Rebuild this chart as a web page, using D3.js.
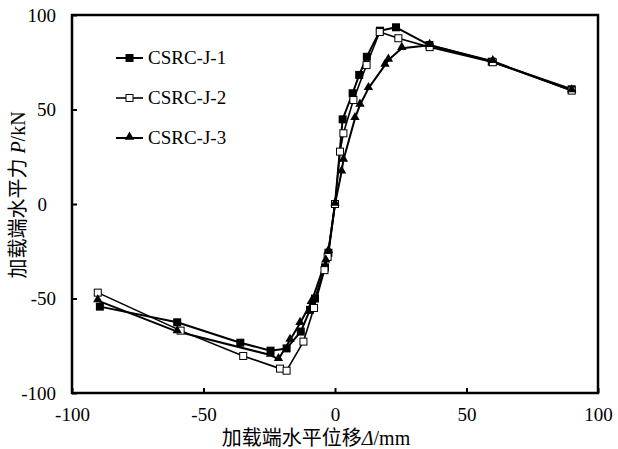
<!DOCTYPE html>
<html lang="zh">
<head>
  <meta charset="UTF-8">
  <title>P-Δ</title>
  <style>
    body { margin: 0; background: #fff; }
    text { font-family: "Liberation Serif", "Times New Roman", "Noto Sans CJK SC", serif; }
  </style>
</head>
<body>
  <div id="my_dataviz"></div>

<script src="https://d3js.org/d3.v7.min.js"></script>
<script>

    // values (displacement in mm, load in kN)
    var dispJ1 = [-89.4, -60, -36, -24.5, -18.4, -13, -9.5, -7.6, -3.8, -2.5, 0, 2.9, 6.7, 9.2, 12.1, 17.1, 23.2, 35.9, 59.6, 90];
    var loadJ1 = [-54.3, -62.6, -73.4, -77.6, -76.4, -67.5, -56, -50, -33.5, -25.8, 0, 44.8, 58.6, 68.3, 77.9, 91.7, 93.5, 84.1, 75.3, 60.7];

    var dispJ2 = [-90.2, -58.7, -34.9, -20.9, -18.4, -12, -8, -4, -2.8, 0, 1.9, 3.2, 7, 12, 17, 24.1, 36, 60, 90];
    var loadJ2 = [-46.9, -67, -80.4, -87.1, -88.2, -72.8, -55, -35, -28, 0, 27.7, 37.4, 55, 73.5, 91, 87.7, 83, 75, 60];

    var dispJ3 = [-90.2, -60, -24.5, -21.5, -17.1, -13.3, -9, -3.5, -2.5, 0, 2.5, 3.2, 7.6, 9.5, 12.7, 19, 20.3, 25.4, 36, 60, 90];
    var loadJ3 = [-51.1, -67.5, -79.9, -82.2, -72, -63.1, -52, -30, -25, 0, 17.1, 23.3, 45.3, 52.4, 61.2, 73.5, 76.2, 82.4, 84, 75.5, 60];

    var seriesNames = ["CSRC-J-1", "CSRC-J-2", "CSRC-J-3"];
    var xTicks = [-100, -50, 0, 50, 100];
    var yTicks = [-100, -50, 0, 50, 100];

    var width = 618, height = 449;
    var margin = {top: 15, right: 20, bottom: 56, left: 72};

    var svg = d3.select("#my_dataviz")
      .append("svg")
        .attr("width", width)
        .attr("height", height);

    var x = d3.scaleLinear().domain([-100, 100]).range([margin.left, width - margin.right]);
    var y = d3.scaleLinear().domain([-100, 100]).range([height - margin.bottom, margin.top]);

    // plain hyphen for negatives, like the original
    var fmt = function(d) { return String(d); };

    // inner ticks (the frame covers the end ones)
    var xAxis = d3.axisBottom(x).tickValues(xTicks).tickSize(-5).tickPadding(12).tickFormat(fmt);
    var yAxis = d3.axisLeft(y).tickValues(yTicks).tickSize(-5).tickPadding(16).tickFormat(fmt);

    var gx = svg.append("g")
      .attr("transform", "translate(0," + y(-100) + ")")
      .call(xAxis);
    var gy = svg.append("g")
      .attr("transform", "translate(" + x(-100) + ",0)")
      .call(yAxis);

    [gx, gy].forEach(function(g) {
      g.select(".domain").remove();
      g.selectAll(".tick line").attr("stroke", "#000").attr("stroke-width", 2);
      g.selectAll(".tick text")
        .attr("fill", "#000")
        .style("font-size", "19px");
    });
    gx.selectAll(".tick text").attr("dy", "0.85em");
    gy.selectAll(".tick").filter(function(d){ return d == 0; }).select("text").attr("dx", "-9px");

    // frame
    svg.append("rect")
      .attr("x", x(-100))
      .attr("y", y(100))
      .attr("width", x(100) - x(-100))
      .attr("height", y(-100) - y(100))
      .attr("fill", "none")
      .attr("stroke", "#000")
      .attr("stroke-width", 2.5);

    var line = d3.line()
      .x(function(d){ return x(d[0]); })
      .y(function(d){ return y(d[1]); });

    var series = [
      {name: seriesNames[0], pts: d3.zip(dispJ1, loadJ1), marker: "fsq", lw: 2},
      {name: seriesNames[1], pts: d3.zip(dispJ2, loadJ2), marker: "osq", lw: 1.6},
      {name: seriesNames[2], pts: d3.zip(dispJ3, loadJ3), marker: "tri", lw: 2}
    ];

    var drawMarker = function(g, kind, cx, cy) {
      if (kind == "fsq") {
        g.append("rect").attr("x", cx - 4).attr("y", cy - 4).attr("width", 8).attr("height", 8)
          .attr("fill", "#000");
      } else if (kind == "osq") {
        g.append("rect").attr("x", cx - 3.5).attr("y", cy - 3.5).attr("width", 7).attr("height", 7)
          .attr("fill", "#fff").attr("stroke", "#000").attr("stroke-width", 1);
      } else {
        g.append("path")
          .attr("d", d3.symbol().type(d3.symbolTriangle).size(38))
          .attr("transform", "translate(" + cx + "," + (cy - 1) + ")")
          .attr("fill", "#000");
      }
    };

    // draw lines first, then markers on top
    series.forEach(function(s) {
      svg.append("path")
        .datum(s.pts)
        .attr("d", line)
        .attr("fill", "none")
        .attr("stroke", "#000")
        .attr("stroke-width", s.lw)
        .attr("stroke-linejoin", "round");
    });
    series.forEach(function(s) {
      var g = svg.append("g");
      s.pts.forEach(function(p) { drawMarker(g, s.marker, x(p[0]), y(p[1])); });
    });

    // legend
    var leg = svg.append("g");
    series.forEach(function(s, i) {
      var ly = 58 + i * 40;
      leg.append("line")
        .attr("x1", 116).attr("x2", 143)
        .attr("y1", ly).attr("y2", ly)
        .attr("stroke", "#000").attr("stroke-width", s.lw);
      drawMarker(leg, s.marker, 129.5, ly);
      leg.append("text")
        .attr("x", 148).attr("y", ly + 6)
        .style("font-size", "19px")
        .text(s.name);
    });

    // axis titles
    var xt = svg.append("text")
      .attr("x", 316).attr("y", 445)
      .attr("text-anchor", "middle")
      .style("font-size", "20px");
    xt.append("tspan").text("加载端水平位移");
    xt.append("tspan").style("font-style", "italic").text("Δ");
    xt.append("tspan").text("/mm");

    var yt = svg.append("text")
      .attr("transform", "translate(25,195) rotate(-90)")
      .attr("text-anchor", "middle")
      .style("font-size", "20px");
    yt.append("tspan").text("加载端水平力 ");
    yt.append("tspan").style("font-style", "italic").text("P");
    yt.append("tspan").text("/kN");

</script>
</body>
</html>
